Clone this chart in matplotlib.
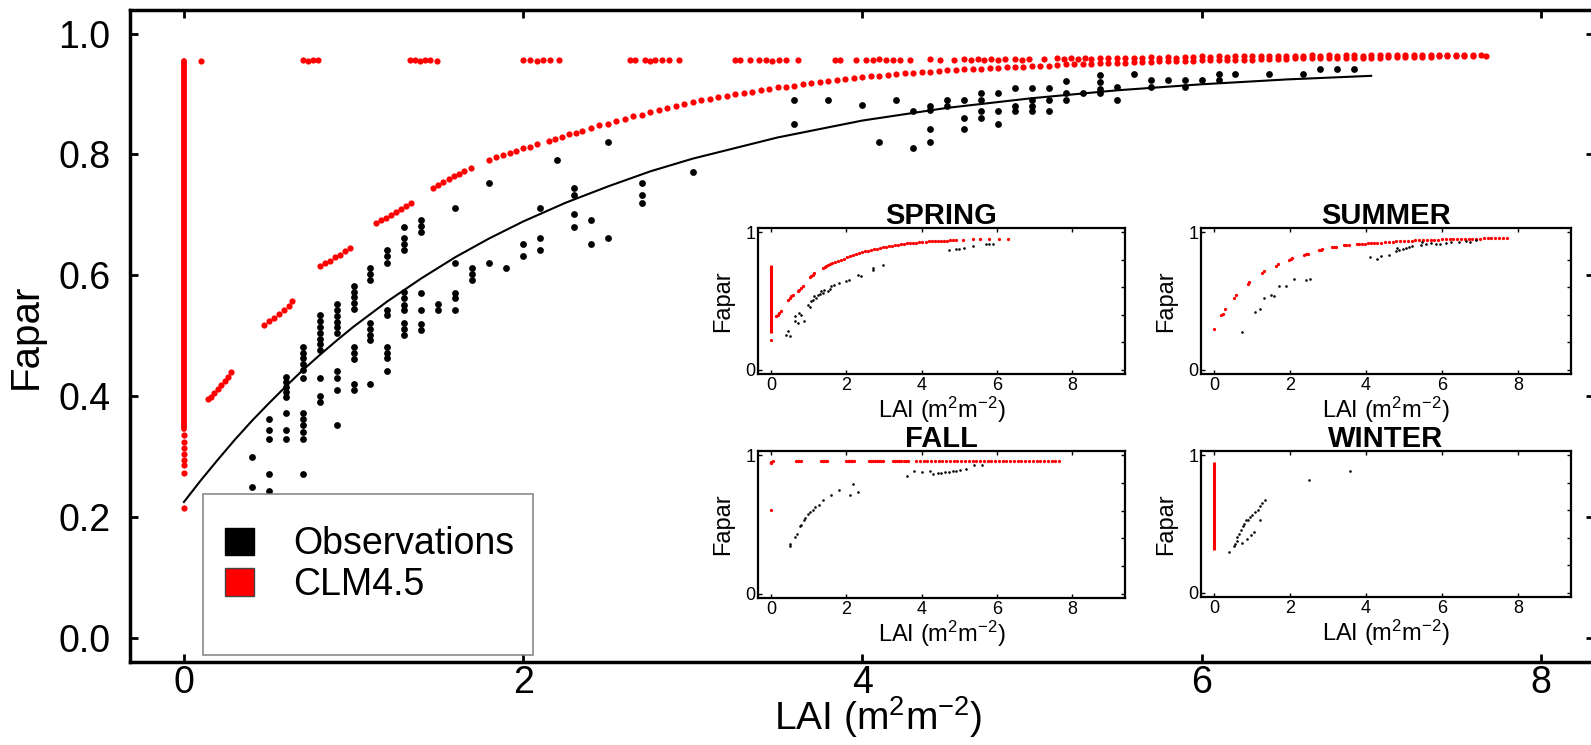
import matplotlib.pyplot as plt
from matplotlib.patches import Patch, Rectangle

plt.rcParams['font.family'] = ['Liberation Sans', 'DejaVu Sans']
plt.rcParams['mathtext.fontset'] = 'custom'
plt.rcParams['mathtext.rm'] = 'Liberation Sans'
plt.rcParams['mathtext.it'] = 'Liberation Sans:italic'
plt.rcParams['mathtext.bf'] = 'Liberation Sans:bold'
plt.rcParams['mathtext.default'] = 'regular'

RED = '#ff0000'
LAI_LABEL = 'LAI (m$^2$m$^{-2}$)'

# ---- all seasons: observed Fapar, grouped by LAI ----
obs_all = {
    0.4: [0.300, 0.250],
    0.5: [0.362, 0.344, 0.330, 0.271, 0.243],
    0.6: [0.432, 0.424, 0.416, 0.407, 0.399, 0.372, 0.344, 0.330],
    0.7: [0.482, 0.472, 0.463, 0.453, 0.443, 0.430, 0.372, 0.362, 0.352, 0.341, 0.330, 0.272],
    0.8: [0.534, 0.525, 0.515, 0.505, 0.495, 0.486, 0.476, 0.430, 0.400, 0.391],
    0.9: [0.553, 0.543, 0.533, 0.523, 0.514, 0.504, 0.442, 0.430, 0.411, 0.352],
    1.0: [0.582, 0.573, 0.564, 0.554, 0.544, 0.482, 0.471, 0.461, 0.421, 0.411],
    1.1: [0.612, 0.602, 0.592, 0.521, 0.512, 0.502, 0.493, 0.421],
    1.2: [0.642, 0.632, 0.621, 0.543, 0.534, 0.482, 0.472, 0.463, 0.442],
    1.3: [0.680, 0.661, 0.651, 0.642, 0.573, 0.562, 0.551, 0.542, 0.521, 0.512, 0.501],
    1.4: [0.691, 0.681, 0.672, 0.571, 0.542, 0.520, 0.510],
    1.5: [0.553, 0.542],
    1.6: [0.711, 0.621, 0.571, 0.562, 0.542],
    1.7: [0.612, 0.602, 0.592],
    1.8: [0.752, 0.621],
    1.9: [0.612],
    2.0: [0.651, 0.632],
    2.1: [0.711, 0.661, 0.642],
    2.2: [0.791],
    2.3: [0.744, 0.733, 0.701, 0.680],
    2.4: [0.691, 0.651],
    2.5: [0.821, 0.661],
    2.7: [0.752, 0.733, 0.720],
    3.0: [0.771],
    3.6: [0.890, 0.851],
    3.8: [0.890],
    4.0: [0.881],
    4.1: [0.821],
    4.2: [0.890],
    4.3: [0.872, 0.810],
    4.4: [0.880, 0.874, 0.842, 0.821],
    4.5: [0.890, 0.880],
    4.6: [0.890, 0.861, 0.842],
    4.7: [0.901, 0.890, 0.871, 0.861],
    4.8: [0.901, 0.871, 0.851],
    4.9: [0.910, 0.880, 0.871],
    5.0: [0.910, 0.890, 0.880, 0.871],
    5.1: [0.910, 0.890, 0.871],
    5.2: [0.921, 0.901, 0.890],
    5.3: [0.901],
    5.4: [0.931, 0.920, 0.909, 0.901],
    5.5: [0.911, 0.890],
    5.6: [0.933],
    5.7: [0.923, 0.911],
    5.8: [0.923],
    5.9: [0.923, 0.911],
    6.0: [0.923],
    6.1: [0.933, 0.923],
    6.2: [0.933],
    6.4: [0.933],
    6.6: [0.933],
    6.7: [0.942],
    6.8: [0.942],
    6.9: [0.942],
}

# exponential fit to the observations
fit_lai = [0.0, 0.1, 0.2, 0.3, 0.4, 0.5, 0.6, 0.7, 0.8, 0.9, 1.0, 1.2, 1.4, 1.6, 1.8, 2.0,
           2.25, 2.5, 2.75, 3.0, 3.5, 4.0, 4.5, 5.0, 5.5, 6.0, 6.5, 7.0]
fit_fapar = [0.225, 0.261, 0.295, 0.328, 0.359, 0.388, 0.416, 0.443, 0.468, 0.492, 0.515,
             0.557, 0.595, 0.630, 0.661, 0.689, 0.720, 0.747, 0.772, 0.793, 0.828, 0.856,
             0.877, 0.893, 0.906, 0.916, 0.924, 0.930]

# CLM4.5 at LAI = 0: solid run plus the lowest scattered values
clm_bare_range = (0.345, 0.955)
clm_bare_low = [0.335, 0.325, 0.315, 0.305, 0.295, 0.286, 0.273, 0.215]

# CLM4.5 lower (LAI-dependent) branch
clm_curve = [
    (0.14, 0.395), (0.16, 0.398), (0.18, 0.405), (0.20, 0.412), (0.22, 0.418), (0.24, 0.425),
    (0.26, 0.432), (0.28, 0.440),
    (0.47, 0.518), (0.50, 0.524), (0.53, 0.530), (0.56, 0.536), (0.59, 0.543), (0.62, 0.550),
    (0.64, 0.558),
    (0.80, 0.615), (0.83, 0.620), (0.86, 0.624), (0.89, 0.630), (0.92, 0.634), (0.95, 0.640),
    (0.98, 0.646),
    (1.13, 0.686), (1.16, 0.691), (1.19, 0.695), (1.22, 0.699), (1.25, 0.704), (1.28, 0.709),
    (1.31, 0.714), (1.34, 0.719),
    (1.47, 0.745), (1.50, 0.750), (1.53, 0.754), (1.56, 0.759), (1.59, 0.764), (1.62, 0.768),
    (1.65, 0.772), (1.69, 0.777),
    (1.80, 0.791), (1.84, 0.795), (1.88, 0.799), (1.92, 0.802), (1.96, 0.806), (2.00, 0.810),
    (2.04, 0.813), (2.08, 0.817), (2.15, 0.822), (2.19, 0.826), (2.23, 0.829), (2.27, 0.833),
    (2.31, 0.836), (2.35, 0.839), (2.40, 0.843), (2.45, 0.848), (2.50, 0.851), (2.55, 0.855),
    (2.60, 0.859), (2.65, 0.863), (2.70, 0.866), (2.75, 0.870), (2.80, 0.873), (2.85, 0.877),
    (2.90, 0.880), (2.95, 0.883), (3.00, 0.887), (3.05, 0.890), (3.10, 0.892), (3.15, 0.895),
    (3.20, 0.897), (3.25, 0.900), (3.30, 0.902), (3.35, 0.904), (3.40, 0.907), (3.45, 0.909),
    (3.50, 0.911), (3.55, 0.912), (3.60, 0.914), (3.65, 0.916), (3.70, 0.918), (3.75, 0.920),
    (3.80, 0.921), (3.85, 0.923), (3.90, 0.924), (3.95, 0.926), (4.00, 0.928), (4.05, 0.929),
    (4.10, 0.930), (4.15, 0.932), (4.20, 0.933), (4.25, 0.934), (4.30, 0.935), (4.35, 0.936),
    (4.40, 0.937), (4.45, 0.938), (4.50, 0.939), (4.55, 0.940), (4.60, 0.941), (4.65, 0.941),
    (4.70, 0.942), (4.75, 0.943), (4.80, 0.943), (4.85, 0.944), (4.90, 0.945), (4.95, 0.945),
    (5.00, 0.946), (5.05, 0.947), (5.10, 0.947), (5.15, 0.948), (5.20, 0.949), (5.25, 0.949),
    (5.30, 0.950), (5.35, 0.950), (5.40, 0.951), (5.45, 0.951), (5.50, 0.952), (5.55, 0.952),
    (5.60, 0.953), (5.65, 0.953), (5.70, 0.953), (5.75, 0.954), (5.80, 0.954), (5.85, 0.955),
    (5.90, 0.955), (5.95, 0.955), (6.00, 0.956), (6.05, 0.956), (6.10, 0.956), (6.15, 0.957),
    (6.20, 0.957), (6.25, 0.957), (6.30, 0.957), (6.35, 0.958), (6.40, 0.958), (6.45, 0.958),
    (6.50, 0.958), (6.55, 0.959), (6.60, 0.959), (6.65, 0.959), (6.70, 0.959), (6.75, 0.959),
    (6.80, 0.960), (6.85, 0.960), (6.90, 0.960), (6.95, 0.960), (7.00, 0.960), (7.05, 0.960),
    (7.10, 0.961), (7.15, 0.961), (7.20, 0.961), (7.25, 0.961), (7.30, 0.961), (7.35, 0.961),
    (7.40, 0.962), (7.45, 0.962), (7.50, 0.962), (7.55, 0.962), (7.60, 0.962), (7.68, 0.962),
]

# CLM4.5 saturated branch (Fapar ~0.96)
clm_top = [
    (0.10, 0.955),
    (0.70, 0.956), (0.73, 0.955), (0.76, 0.957), (0.79, 0.956),
    (1.33, 0.956), (1.36, 0.957), (1.39, 0.955), (1.42, 0.956), (1.45, 0.957), (1.49, 0.955),
    (2.00, 0.956), (2.04, 0.957), (2.08, 0.955), (2.12, 0.957), (2.16, 0.956), (2.21, 0.956),
    (2.63, 0.957), (2.66, 0.956), (2.72, 0.957), (2.75, 0.955), (2.78, 0.957), (2.82, 0.956),
    (2.86, 0.957), (2.92, 0.956),
    (3.25, 0.957), (3.28, 0.956), (3.34, 0.957), (3.39, 0.956), (3.43, 0.957), (3.47, 0.955),
    (3.51, 0.957), (3.55, 0.956), (3.62, 0.957),
    (3.84, 0.957), (3.87, 0.956), (3.96, 0.957), (4.02, 0.957), (4.06, 0.956), (4.10, 0.958),
    (4.14, 0.957), (4.18, 0.956), (4.22, 0.957), (4.28, 0.957),
    (4.40, 0.958), (4.46, 0.957), (4.54, 0.957), (4.60, 0.958), (4.64, 0.957), (4.68, 0.958),
    (4.72, 0.957), (4.76, 0.958), (4.80, 0.957), (4.84, 0.958),
    (4.90, 0.958), (4.94, 0.957), (4.98, 0.958), (5.07, 0.958), (5.15, 0.959), (5.19, 0.958),
    (5.23, 0.959), (5.27, 0.958), (5.31, 0.959), (5.35, 0.958), (5.40, 0.959),
    (5.45, 0.959), (5.50, 0.960), (5.55, 0.959), (5.60, 0.960), (5.65, 0.960), (5.70, 0.961),
    (5.75, 0.960), (5.80, 0.961), (5.85, 0.960), (5.90, 0.961), (5.95, 0.961), (6.00, 0.962),
    (6.05, 0.961), (6.10, 0.962), (6.15, 0.961), (6.20, 0.962), (6.25, 0.962), (6.30, 0.963),
    (6.35, 0.962), (6.40, 0.963), (6.45, 0.962), (6.50, 0.963), (6.55, 0.963), (6.60, 0.963),
    (6.65, 0.964), (6.70, 0.963), (6.75, 0.964), (6.80, 0.963), (6.85, 0.964), (6.90, 0.964),
    (6.95, 0.963), (7.00, 0.964), (7.05, 0.964), (7.10, 0.964), (7.15, 0.965), (7.20, 0.964),
    (7.25, 0.965), (7.30, 0.964), (7.35, 0.965), (7.40, 0.965), (7.45, 0.964), (7.50, 0.965),
    (7.55, 0.965), (7.60, 0.965), (7.65, 0.964),
]

# ---- seasonal panels ----
spring_bare = (0.267, 0.765)
spring_clm = [
    (0.0, 0.218), (0.13, 0.388), (0.17, 0.400), (0.22, 0.413), (0.26, 0.430),
    (0.45, 0.510), (0.49, 0.522), (0.53, 0.533), (0.57, 0.543),
    (0.70, 0.570), (0.75, 0.583), (0.80, 0.597), (0.85, 0.610),
    (1.02, 0.672), (1.06, 0.682), (1.10, 0.692), (1.14, 0.700),
    (1.38, 0.740), (1.42, 0.746), (1.46, 0.752), (1.50, 0.758), (1.56, 0.766), (1.62, 0.773),
    (1.70, 0.783), (1.78, 0.792), (1.86, 0.800), (1.94, 0.808), (2.02, 0.816), (2.10, 0.824),
    (2.18, 0.832), (2.26, 0.840), (2.34, 0.847), (2.42, 0.854), (2.50, 0.860), (2.58, 0.866),
    (2.66, 0.871), (2.74, 0.875), (2.82, 0.880), (2.90, 0.884), (2.98, 0.889), (3.06, 0.893),
    (3.14, 0.897), (3.22, 0.900), (3.30, 0.905), (3.38, 0.908), (3.46, 0.912), (3.54, 0.915),
    (3.62, 0.918), (3.70, 0.920), (3.78, 0.922), (3.86, 0.924), (3.94, 0.926), (4.02, 0.928),
    (4.10, 0.930), (4.18, 0.932), (4.26, 0.933), (4.34, 0.935), (4.42, 0.936), (4.50, 0.937),
    (4.58, 0.938), (4.66, 0.939), (4.74, 0.940), (4.82, 0.941), (4.92, 0.943), (5.10, 0.945),
    (5.35, 0.947), (5.55, 0.948), (5.78, 0.950), (6.05, 0.950), (6.30, 0.951),
]
spring_obs = [
    (0.40, 0.255), (0.44, 0.279), (0.49, 0.243), (0.62, 0.352), (0.62, 0.388), (0.71, 0.340),
    (0.75, 0.413), (0.80, 0.400), (0.88, 0.352), (0.97, 0.473), (1.02, 0.460), (1.06, 0.498),
    (1.10, 0.510), (1.15, 0.534), (1.20, 0.520), (1.24, 0.546), (1.30, 0.550), (1.33, 0.570),
    (1.38, 0.560), (1.41, 0.583), (1.50, 0.570), (1.55, 0.590), (1.59, 0.607), (1.68, 0.619),
    (1.81, 0.631), (1.99, 0.643), (2.08, 0.650), (2.30, 0.692), (2.39, 0.684), (2.70, 0.728),
    (2.70, 0.740), (2.98, 0.765), (4.73, 0.867), (4.91, 0.874), (5.00, 0.879), (5.13, 0.886),
    (5.35, 0.898), (5.70, 0.915), (5.79, 0.917), (5.88, 0.915),
]

summer_clm = [
    (0.00, 0.296), (0.18, 0.400), (0.22, 0.405), (0.28, 0.444), (0.53, 0.520), (0.57, 0.545),
    (0.88, 0.620), (0.92, 0.636), (1.27, 0.700), (1.30, 0.716), (1.62, 0.757), (1.67, 0.770),
    (1.97, 0.800), (2.02, 0.805), (2.06, 0.810), (2.37, 0.837), (2.42, 0.840), (2.46, 0.842),
    (2.75, 0.868), (2.80, 0.872), (2.85, 0.876), (3.10, 0.890), (3.15, 0.893), (3.20, 0.895),
    (3.42, 0.903), (3.48, 0.905), (3.54, 0.907), (3.75, 0.912), (3.82, 0.914), (3.90, 0.916),
    (3.98, 0.917), (4.06, 0.919), (4.14, 0.920), (4.22, 0.921), (4.30, 0.922), (4.40, 0.924),
    (4.50, 0.926), (4.60, 0.928), (4.70, 0.930), (4.80, 0.932), (4.90, 0.934), (5.00, 0.936),
    (5.10, 0.938), (5.20, 0.939), (5.30, 0.941), (5.40, 0.942), (5.50, 0.943), (5.60, 0.944),
    (5.70, 0.945), (5.80, 0.946), (5.90, 0.946), (6.00, 0.947), (6.10, 0.948), (6.20, 0.948),
    (6.30, 0.949), (6.40, 0.950), (6.50, 0.950), (6.60, 0.951), (6.70, 0.951), (6.80, 0.952),
    (6.90, 0.952), (7.00, 0.953), (7.10, 0.954), (7.20, 0.955), (7.30, 0.956), (7.40, 0.957),
    (7.50, 0.958), (7.60, 0.958), (7.72, 0.959),
]
summer_obs = [
    (0.72, 0.272), (1.07, 0.417), (1.21, 0.442), (1.32, 0.522), (1.49, 0.546), (1.58, 0.534),
    (1.71, 0.607), (1.90, 0.607), (2.09, 0.660), (2.41, 0.655), (2.52, 0.660), (4.10, 0.818),
    (4.30, 0.806), (4.39, 0.825), (4.61, 0.837), (4.78, 0.862), (4.81, 0.886), (4.87, 0.870),
    (4.96, 0.878), (5.04, 0.882), (5.13, 0.890), (5.22, 0.897), (5.44, 0.908), (5.48, 0.925),
    (5.57, 0.915), (5.70, 0.920), (5.83, 0.913), (5.96, 0.915), (6.10, 0.920), (6.23, 0.925),
    (6.45, 0.930), (6.62, 0.935), (6.75, 0.928), (6.89, 0.940),
]

fall_clm = [
    (0.00, 0.940), (0.00, 0.950), (0.06, 0.955), (0.00, 0.607),
    (0.66, 0.958), (0.70, 0.958), (0.74, 0.957), (0.78, 0.958),
    (1.33, 0.958), (1.37, 0.957), (1.41, 0.958), (1.45, 0.958), (1.49, 0.957),
    (1.99, 0.958), (2.03, 0.958), (2.07, 0.957), (2.11, 0.958), (2.15, 0.958), (2.19, 0.957),
    (2.60, 0.958), (2.65, 0.957), (2.70, 0.958), (2.75, 0.958), (2.80, 0.957), (2.86, 0.958),
    (2.92, 0.958), (2.96, 0.957),
    (3.23, 0.958), (3.28, 0.957), (3.34, 0.958), (3.40, 0.958), (3.46, 0.957), (3.52, 0.958),
    (3.58, 0.958), (3.64, 0.957),
    (3.85, 0.958), (3.95, 0.958), (4.05, 0.957), (4.15, 0.958), (4.25, 0.958), (4.35, 0.958),
    (4.45, 0.957), (4.55, 0.958), (4.65, 0.958), (4.75, 0.958), (4.85, 0.959), (4.95, 0.958),
    (5.05, 0.958), (5.15, 0.959), (5.25, 0.958), (5.35, 0.959), (5.45, 0.959), (5.55, 0.958),
    (5.65, 0.959), (5.75, 0.959), (5.85, 0.959), (5.95, 0.959), (6.05, 0.960), (6.15, 0.959),
    (6.25, 0.960), (6.35, 0.960), (6.45, 0.960), (6.55, 0.960), (6.65, 0.960), (6.75, 0.960),
    (6.85, 0.960), (6.95, 0.961), (7.05, 0.960), (7.15, 0.961), (7.25, 0.961), (7.35, 0.961),
    (7.45, 0.961), (7.55, 0.961), (7.65, 0.961),
]
fall_obs = [
    (0.49, 0.343), (0.49, 0.362), (0.62, 0.410), (0.68, 0.434), (0.77, 0.486), (0.80, 0.500),
    (0.86, 0.530), (0.91, 0.550), (0.97, 0.573), (1.04, 0.590), (1.10, 0.607), (1.17, 0.625),
    (1.26, 0.643), (1.37, 0.674), (1.59, 0.710), (1.79, 0.746), (2.10, 0.710), (2.18, 0.790),
    (2.30, 0.734), (3.60, 0.847), (3.80, 0.886), (4.02, 0.879), (4.22, 0.886), (4.30, 0.867),
    (4.42, 0.870), (4.52, 0.874), (4.62, 0.878), (4.72, 0.882), (4.82, 0.886), (4.92, 0.889),
    (5.02, 0.892), (5.17, 0.900), (5.39, 0.927), (5.61, 0.927),
]

winter_bare = (0.31, 0.95)
winter_obs = [
    (0.39, 0.300), (0.53, 0.338), (0.54, 0.357), (0.60, 0.380), (0.61, 0.405), (0.66, 0.430),
    (0.70, 0.454), (0.75, 0.483), (0.79, 0.502), (0.83, 0.527), (0.88, 0.531), (0.95, 0.551),
    (1.00, 0.568), (1.07, 0.587), (1.14, 0.604), (1.20, 0.628), (1.27, 0.650), (1.33, 0.672),
    (0.72, 0.360), (0.85, 0.390), (0.98, 0.420), (1.05, 0.440), (1.20, 0.530), (2.50, 0.817),
    (3.58, 0.885),
]

main_xticks = [0, 2, 4, 6, 8]
main_yticks = [0.0, 0.2, 0.4, 0.6, 0.8, 1.0]
main_ytick_labels = ['0.0', '0.2', '0.4', '0.6', '0.8', '1.0']


def split(pairs):
    return [p[0] for p in pairs], [p[1] for p in pairs]


def flatten(groups):
    xs, ys = [], []
    for lai, vals in groups.items():
        xs += [lai] * len(vals)
        ys += vals
    return xs, ys


W, H = 1591, 745
fig = plt.figure(figsize=(W / 100, H / 100), dpi=100)


def px_axes(left, top, right, bottom):
    return fig.add_axes([left / W, (H - bottom) / H, (right - left) / W, (bottom - top) / H])


# main panel
ax = px_axes(130, 10, 1594, 662)
ax.vlines(0, clm_bare_range[0], clm_bare_range[1], color=RED, lw=4.2, capstyle='round', zorder=2)
ax.scatter([0] * len(clm_bare_low), clm_bare_low, s=20, color=RED, lw=0, zorder=2)
x, y = split(clm_curve)
ax.scatter(x, y, s=20, color=RED, lw=0, zorder=2)
x, y = split(clm_top)
ax.scatter(x, y, s=20, color=RED, lw=0, zorder=2)
x, y = flatten(obs_all)
ax.scatter(x, y, s=24, color='black', lw=0, zorder=3)
ax.plot(fit_lai, fit_fapar, color='black', lw=1.5, zorder=4)

ax.set_xlim(-0.318, 8.314)
ax.set_ylim(-0.0397, 1.0389)
ax.set_xticks(main_xticks)
ax.set_yticks(main_yticks)
ax.set_yticklabels(main_ytick_labels)
ax.tick_params(direction='in', length=6, width=2, top=True, right=True, labelsize=27)
ax.tick_params(axis='x', pad=2)
ax.tick_params(axis='y', pad=14)
for sp in ax.spines.values():
    sp.set_linewidth(2.5)

ax.set_xlabel(LAI_LABEL, fontsize=28)
ax.xaxis.set_label_coords(0.511, -0.050)
ax.set_ylabel('Fapar', fontsize=29)
ax.yaxis.set_label_coords(-0.058, 0.5)

# legend box
ax.add_patch(Rectangle((0.050, 0.011), 0.225, 0.247, transform=ax.transAxes,
                       facecolor='white', edgecolor='#808080', lw=1.1, zorder=5))
handles = [Patch(facecolor='black', edgecolor='black'), Patch(facecolor=RED, edgecolor='#444444')]
leg = ax.legend(handles, ['Observations', 'CLM4.5'], loc='upper left',
                bbox_to_anchor=(0.0652, 0.208), frameon=False, fontsize=27,
                handlelength=0.75, handleheight=0.75, handletextpad=1.05,
                labelspacing=0.12, borderpad=0, borderaxespad=0)
leg.set_zorder(6)


def season_panel(box, title, clm=None, bare=None, obs=None):
    a = px_axes(*box)
    if bare is not None:
        a.vlines(0, bare[0], bare[1], color=RED, lw=2.2, zorder=2)
    if clm is not None:
        x, y = split(clm)
        a.scatter(x, y, s=5.5, color=RED, lw=0, zorder=2)
    x, y = split(obs)
    a.scatter(x, y, s=3.5, color='black', lw=0, zorder=3)
    a.set_xlim(-0.35, 9.4)
    a.set_ylim(-0.03, 1.03)
    a.set_xticks([0, 2, 4, 6, 8])
    a.set_yticks([0, 1])
    a.set_yticks([0.2, 0.4, 0.6, 0.8], minor=True)
    a.tick_params(direction='in', length=3, width=1, top=True, right=True, labelsize=13, pad=2)
    a.tick_params(which='minor', direction='in', length=3, width=1, left=False, right=True)
    for sp in a.spines.values():
        sp.set_linewidth(1.6)
    a.set_title(title, fontsize=21, fontweight='bold', pad=3)
    a.set_xlabel(LAI_LABEL, fontsize=17, labelpad=1)
    a.set_ylabel('Fapar', fontsize=17, labelpad=8)
    return a


season_panel((758, 228, 1125, 374), 'SPRING', clm=spring_clm, bare=spring_bare, obs=spring_obs)
season_panel((1201, 228, 1571, 374), 'SUMMER', clm=summer_clm, obs=summer_obs)
season_panel((758, 451, 1125, 598), 'FALL', clm=fall_clm, obs=fall_obs)
season_panel((1201, 451, 1571, 597), 'WINTER', bare=winter_bare, obs=winter_obs)

fig.savefig('out.png', dpi=100)
